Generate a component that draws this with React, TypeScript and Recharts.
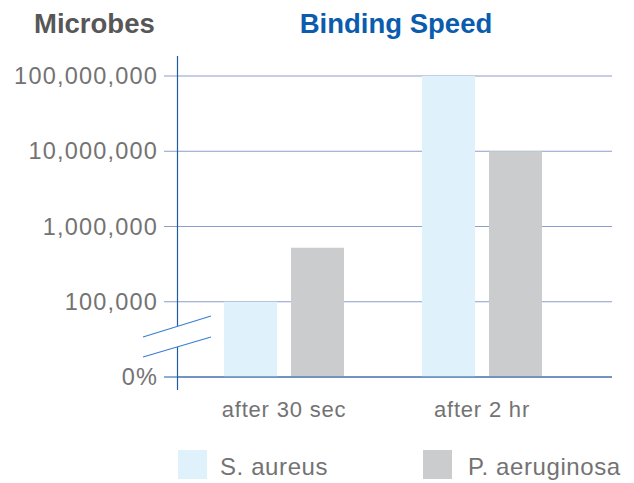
import React from 'react';
import { BarChart, Bar, XAxis, YAxis, CartesianGrid, Legend } from 'recharts';

// values (log scale, bottom tick stands for 0%)
const categories = ['after 30 sec', 'after 2 hr'];
const sAureus = [100000, 100000000];
const pAeruginosa = [520000, 10000000];
const yTicks = [10000, 100000, 1000000, 10000000, 100000000];
const yTickLabels = ['0%', '100,000', '1,000,000', '10,000,000', '100,000,000'];
const seriesNames = ['S. aureus', 'P. aeruginosa'];

const data = categories.map((name, i) => ({
    name,
    sAureus: sAureus[i],
    pAeruginosa: pAeruginosa[i],
}));

const W = 634;
const H = 483;
const PLOT_LEFT = 178;
const PLOT_TOP = 76;
const PLOT_RIGHT = 612;
const PLOT_BOTTOM = 377;
const LEGEND_H = 36;

const FONT = '"Liberation Sans", Arial, Helvetica, sans-serif';
const AXIS = '#1f5ba3';
const GRID = '#8a9dcb';
const BREAK = '#3a7fd0';
const TEXT = '#737373';
const COLORS = ['#dff1fb', '#cbcccd'];
const LEGEND_X = [178, 423];

const YTick = (props: any) => {
    const { x, y, payload } = props;
    const i = yTicks.indexOf(payload.value);
    const isZero = i === 0;
    return (
        <g>
            <line x1={x} x2={x + 14} y1={y} y2={y} stroke={isZero ? AXIS : GRID} strokeWidth={1} />
            <text
                x={x - 6}
                y={y}
                dy={8}
                textAnchor="end"
                fontFamily={FONT}
                fontSize={23.5}
                letterSpacing={1.2}
                fill={TEXT}
            >
                {yTickLabels[i]}
            </text>
        </g>
    );
};

const XTick = (props: any) => {
    const { x, y, payload } = props;
    return (
        <text
            x={x}
            y={y + 40}
            textAnchor="middle"
            fontFamily={FONT}
            fontSize={22}
            letterSpacing={0.8}
            fill={TEXT}
        >
            {payload.value}
        </text>
    );
};

const renderLegend = (props: any) => {
    // keep the series order (the legend would sort them by name otherwise)
    const items = [...(props.payload || [])].sort(
        (a: any, b: any) => seriesNames.indexOf(a.value) - seriesNames.indexOf(b.value)
    );
    return (
        <div style={{ position: 'relative', width: W, height: LEGEND_H }}>
            {items.map((entry: any, i: number) => (
                <div key={entry.value} style={{ position: 'absolute', left: LEGEND_X[i], top: 3, height: 29 }}>
                    <span
                        style={{
                            position: 'absolute',
                            left: 0,
                            top: 0,
                            width: 29,
                            height: 29,
                            background: entry.color,
                        }}
                    />
                    <span
                        style={{
                            position: 'absolute',
                            left: i === 0 ? 42 : 45,
                            top: 1.5,
                            fontFamily: FONT,
                            fontSize: 24,
                            lineHeight: '29px',
                            letterSpacing: 0.6,
                            color: TEXT,
                            whiteSpace: 'nowrap',
                        }}
                    >
                        {entry.value}
                    </span>
                </div>
            ))}
        </div>
    );
};

export default function App() {
    // y positions of the axis break where it crosses the y axis
    const breakTop = 326;
    const breakBottom = 347;

    return (
        <div style={{ position: 'absolute', left: 0, top: 0, width: W, height: H, background: '#fff' }}>
            <BarChart
                width={W}
                height={H}
                data={data}
                margin={{ top: PLOT_TOP, right: W - PLOT_RIGHT, left: 0, bottom: 0 }}
                barSize={53}
                barGap={14}
            >
                <CartesianGrid horizontal vertical={false} stroke={GRID} strokeWidth={1} />
                <XAxis
                    dataKey="name"
                    axisLine={{ stroke: AXIS, strokeWidth: 1 }}
                    tickLine={false}
                    tickSize={0}
                    tickMargin={0}
                    height={H - PLOT_BOTTOM - LEGEND_H}
                    padding={{ left: 7, right: 31 }}
                    tick={<XTick />}
                    interval={0}
                />
                <YAxis
                    scale="log"
                    domain={[yTicks[0], yTicks[yTicks.length - 1]]}
                    ticks={yTicks}
                    interval={0}
                    allowDataOverflow
                    axisLine={false}
                    tickLine={false}
                    tickSize={14}
                    tickMargin={0}
                    width={PLOT_LEFT}
                    tick={<YTick />}
                />
                <Legend
                    verticalAlign="bottom"
                    wrapperStyle={{ left: 0, bottom: 0, width: W, height: LEGEND_H }}
                    content={renderLegend}
                />
                <Bar dataKey="sAureus" name={seriesNames[0]} fill={COLORS[0]} isAnimationActive={false} />
                <Bar dataKey="pAeruginosa" name={seriesNames[1]} fill={COLORS[1]} isAnimationActive={false} />
            </BarChart>
            <svg
                width={W}
                height={H}
                style={{ position: 'absolute', left: 0, top: 0, pointerEvents: 'none' }}
            >
                <text x={34} y={32.7} fontFamily={FONT} fontWeight="bold" fontSize={27.5} fill="#575757">
                    Microbes
                </text>
                <text
                    x={396}
                    y={32.7}
                    textAnchor="middle"
                    fontFamily={FONT}
                    fontWeight="bold"
                    fontSize={27.5}
                    fill="#0b5cad"
                >
                    Binding Speed
                </text>
                {/* y axis, broken between the two slashes */}
                <line x1={PLOT_LEFT - 0.5} x2={PLOT_LEFT - 0.5} y1={56} y2={breakTop} stroke={AXIS} strokeWidth={1.2} />
                <line x1={PLOT_LEFT - 0.5} x2={PLOT_LEFT - 0.5} y1={breakBottom} y2={390} stroke={AXIS} strokeWidth={1.2} />
                <line x1={143} y1={337} x2={211} y2={316} stroke={BREAK} strokeWidth={1.2} />
                <line x1={143} y1={357} x2={211} y2={337} stroke={BREAK} strokeWidth={1.2} />
            </svg>
        </div>
    );
}
